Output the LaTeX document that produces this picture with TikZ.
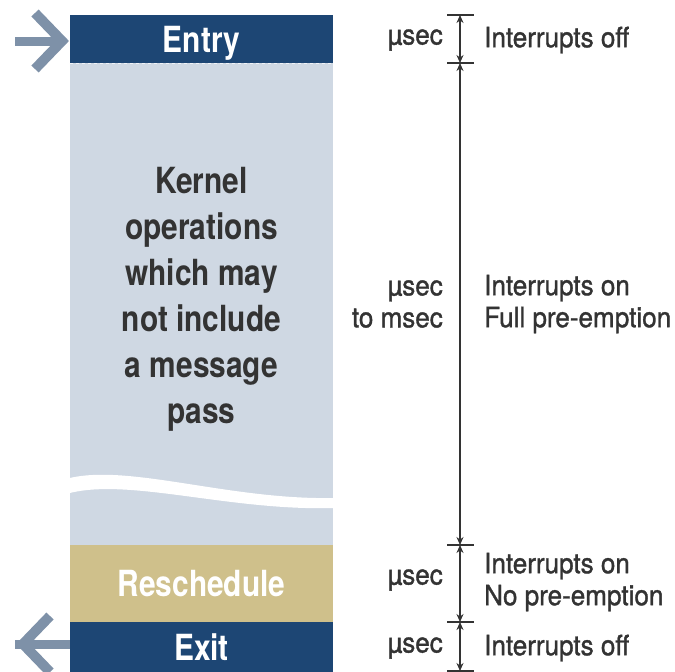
\documentclass[tikz,border=0pt]{standalone}
\usepackage{fontspec}
\setmainfont{TeX Gyre Heros}
\newfontfamily\condfont[FakeStretch=0.83]{TeX Gyre Heros}
\newfontfamily\notefont[FakeStretch=0.93,FakeBold=1.2]{TeX Gyre Heros}
\usepackage{tikz}
\usetikzlibrary{arrows.meta,positioning}

\definecolor{barblue}{HTML}{1D4674}
\definecolor{kernelgray}{HTML}{CFD8E3}
\definecolor{reschedtan}{HTML}{CFC08B}
\definecolor{flowgray}{HTML}{7E91A8}
\definecolor{inkgray}{HTML}{333333}

\begin{document}
\begin{tikzpicture}[x=1pt,y=-1pt,
    bar/.style={rectangle, minimum width=263pt, inner sep=0pt, text=white,
      text height=26pt, text depth=0pt,
      font=\condfont\bfseries\fontsize{36}{46}\selectfont},
    bodytext/.style={align=center, text=inkgray, inner sep=0pt,
      font=\condfont\bfseries\fontsize{36}{46}\selectfont},
    timelabel/.style={anchor=east, align=right, text=inkgray, inner sep=0pt,
      font=\notefont\fontsize{28}{32}\selectfont},
    modelabel/.style={anchor=west, align=left, text=inkgray, inner sep=0pt,
      font=\notefont\fontsize{28}{32}\selectfont},
    dimline/.style={inkgray, line width=1.4pt,
      {Stealth[length=8pt,width=7pt]}-{Stealth[length=8pt,width=7pt]}},
    dimtick/.style={inkgray, line width=1.2pt},
    shaft/.style={flowgray, line width=9pt},
    chevron/.style={flowgray, line width=10pt, line join=miter}]

  \useasboundingbox[fill=white] (0,0) rectangle (675,672);

  % flow arrows in and out
  \coordinate (entryin) at (15,41);
  \coordinate (entrytip) at (62,41);
  \coordinate (exitout) at (15,644);
  \coordinate (exittip) at (23,644);
  \draw[shaft] (entryin) -- (entrytip);
  \draw[chevron] ([shift={(-27,-28)}]entrytip) -- (entrytip) -- ([shift={(-27,28)}]entrytip);
  \draw[shaft] (exitout) -- ++(55,0);
  \draw[chevron] ([shift={(27,-28)}]exittip) -- (exittip) -- ([shift={(27,28)}]exittip);

  % the column
  \node[bar, fill=kernelgray, minimum height=482pt] (kernel) at (201.5,304) {};
  \node[bar, fill=barblue, minimum height=48pt] (entry) at (201.5,39) {Entry};
  \node[bar, fill=reschedtan, minimum height=77pt] (resched) at (201.5,583.5) {Reschedule};
  \node[bar, fill=barblue, minimum height=50pt] (exit) at (201.5,647) {Exit};
  \draw[white!70!kernelgray, dashed, line width=0.6pt] (entry.south west) -- (entry.south east);
  \fill[white] (kernel.west |- 0,478) .. controls (130,464) and (230,500) .. (kernel.east |- 0,498)
    -- (kernel.east |- 0,508) .. controls (230,511) and (130,478) .. (kernel.west |- 0,493) -- cycle;
  \node[bodytext] (kerneltext) at (201.5,299.5)
    {Kernel\\operations\\which may\\not include\\a message\\pass};

  % timing scale
  \coordinate (d0) at (460,15);
  \coordinate (d1) at (460,63);
  \coordinate (d2) at (460,545);
  \coordinate (d3) at (460,622);
  \coordinate (d4) at (460,671);
  \foreach \i in {0,...,4}
    \draw[dimtick] ([xshift=-13pt]d\i) -- ([xshift=14pt]d\i);
  \foreach \a/\b in {d0/d1,d1/d2,d2/d3,d3/d4}
    \draw[dimline] (\a) -- (\b);

  \node[timelabel] (t1) at (443,40) {µsec};
  \node[modelabel] (m1) at (484,40) {Interrupts off};
  \node[timelabel] (t2) at (443,304) {µsec\\to msec};
  \node[modelabel] (m2) at (484,304) {Interrupts on\\Full pre-emption};
  \node[timelabel] (t3) at (443,580) {µsec};
  \node[modelabel] (m3) at (484,582) {Interrupts on\\No pre-emption};
  \node[timelabel] (t4) at (443,648) {µsec};
  \node[modelabel] (m4) at (484,648) {Interrupts off};
\end{tikzpicture}
\end{document}
